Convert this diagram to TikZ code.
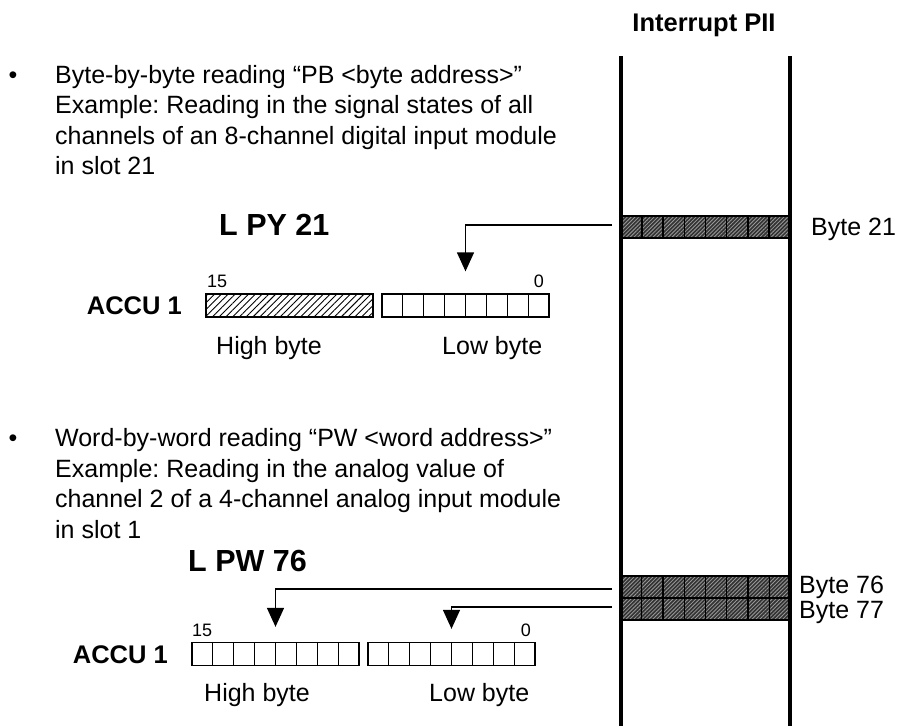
\documentclass[tikz,border=0pt]{standalone}
\usepackage{fontspec}
\setmainfont{Liberation Sans}
\frenchspacing
\usetikzlibrary{arrows.meta,patterns.meta,calc}
\tikzset{
  txt/.style={inner sep=0pt, font=\fontsize{25}{30}\selectfont},
  boldtxt/.style={inner sep=0pt, font=\fontsize{25.5}{30}\selectfont\bfseries},
  cmd/.style={inner sep=0pt, font=\fontsize{30.5}{36}\selectfont\bfseries},
  bitno/.style={inner sep=0pt, font=\fontsize{18}{20}\selectfont},
  bytebox/.style={draw, line width=1.3pt, minimum width=167pt, minimum height=23pt, inner sep=0pt},
  hatched/.style={pattern={Lines[angle=45,distance=4.8pt,line width=0.9pt]}},
  band/.style={draw, line width=1.2pt, minimum width=169pt, minimum height=22pt, inner sep=0pt,
    preaction={fill=black!80}, pattern={Lines[angle=45,distance=2.7pt,line width=0.8pt]}, pattern color=white!60!black},
  cell/.style={line width=1.3pt},
  bandcell/.style={line width=1.4pt},
  conn/.style={line width=1.3pt},
  arr/.style={conn, -{Triangle[width=17pt,length=19pt]}},
  column/.style={line width=4pt},
}
\begin{document}
\begin{tikzpicture}[x=1pt,y=-1pt]
\useasboundingbox (0,0) rectangle (898,726);
\fill[white] (0,0) rectangle (898,726);

% Interrupt PII column
\node[boldtxt, anchor=base] (title) at (704,31) {Interrupt PII};
\node[band] (b21) at (705.5,227) {};
\node[band] (b76) at (705.5,587) {};
\node[band] (b77) at (705.5,609) {};
\foreach \n in {b21,b76,b77}{
  \foreach \i in {1,...,7}
    \draw[bandcell] ($(\n.north west)!\i/8!(\n.north east)$) -- ($(\n.south west)!\i/8!(\n.south east)$);
}
\coordinate (colLtop) at (621,56);
\coordinate (colLbot) at (621,730);
\coordinate (colRtop) at (790,56);
\coordinate (colRbot) at (790,730);
\draw[column] (colLtop) -- (colLbot);
\draw[column] (colRtop) -- (colRbot);
\node[txt, anchor=base west] (lb21) at (811,235.5) {Byte 21};
\node[txt, anchor=base west] (lb76) at (799,593) {Byte 76};
\node[txt, anchor=base west] (lb77) at (799,618) {Byte 77};

% First bullet
\node[txt, anchor=base] (bul1) at (13,83) {•};
\node[txt, anchor=base west] (t1a) at (55,83) {Byte-by-byte reading “PB <byte address>”};
\node[txt, anchor=base west] (t1b) at (55,113.5) {Example: Reading in the signal states of all};
\node[txt, anchor=base west] (t1c) at (55,144) {channels of an 8-channel digital input module};
\node[txt, anchor=base west] (t1d) at (55,174.5) {in slot 21};

\node[cmd, anchor=base west] (lpy) at (219,235) {L PY 21};
\node[boldtxt, anchor=east] (acc1) at (182,305.5) {ACCU 1};
\node[bytebox, hatched] (hi1) at (289.5,305.5) {};
\node[bytebox] (lo1) at (465.5,305.5) {};
\foreach \i in {1,...,7}
  \draw[cell] ($(lo1.north west)!\i/8!(lo1.north east)$) -- ($(lo1.south west)!\i/8!(lo1.south east)$);
\node[bitno, anchor=base west] (n15a) at (207,287) {15};
\node[bitno, anchor=base east] (n0a) at (544,287) {0};
\node[txt, anchor=base west] (hb1) at (216,354) {High byte};
\node[txt, anchor=base west] (lb1) at (442,354) {Low byte};

\coordinate (s21) at (612,225);
\draw[arr] (s21) -| ([yshift=22pt]lo1.north);

% Second bullet
\node[txt, anchor=base] (bul2) at (13,446) {•};
\node[txt, anchor=base west] (t2a) at (55,446) {Word-by-word reading “PW <word address>”};
\node[txt, anchor=base west] (t2b) at (55,477) {Example: Reading in the analog value of};
\node[txt, anchor=base west] (t2c) at (55,507.5) {channel 2 of a 4-channel analog input module};
\node[txt, anchor=base west] (t2d) at (55,538) {in slot 1};

\node[cmd, anchor=base west] (lpw) at (188,571) {L PW 76};
\node[boldtxt, anchor=east] (acc2) at (168,655) {ACCU 1};
\node[bytebox] (hi2) at (275.5,654) {};
\node[bytebox] (lo2) at (451.5,654) {};
\foreach \n in {hi2,lo2}{
  \foreach \i in {1,...,7}
    \draw[cell] ($(\n.north west)!\i/8!(\n.north east)$) -- ($(\n.south west)!\i/8!(\n.south east)$);
}
\node[bitno, anchor=base west] (n15b) at (192,636) {15};
\node[bitno, anchor=base east] (n0b) at (531,636) {0};
\node[txt, anchor=base west] (hb2) at (204,701) {High byte};
\node[txt, anchor=base west] (lb2) at (429,701) {Low byte};

\coordinate (s76) at (612,589);
\coordinate (s77) at (612,607);
\draw[arr] (s76) -| ([yshift=15pt]hi2.north);
\draw[arr] (s77) -| ([yshift=13pt]lo2.north);
\end{tikzpicture}
\end{document}
